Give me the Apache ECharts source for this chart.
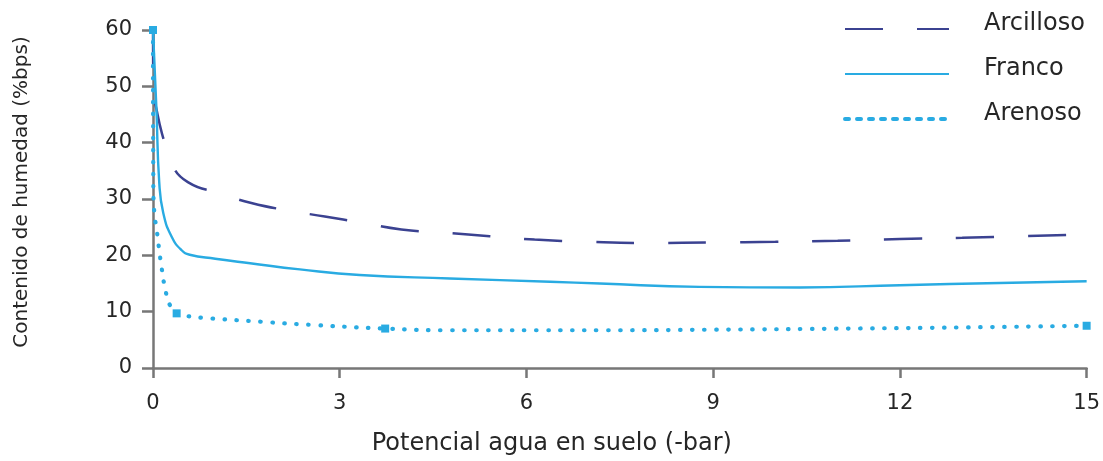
<!DOCTYPE html>
<html>
<head>
<meta charset="utf-8">
<script src="https://cdn.jsdelivr.net/npm/echarts@6/dist/echarts.min.js"></script>
<style>
html,body{margin:0;padding:0;background:#fff;}
#chart{width:1103px;height:461px;}
</style>
</head>
<body>
<div id="chart"></div>
<script>
// ---- data ----
const seriesNames = ['Arcilloso', 'Franco', 'Arenoso'];
const xTicks = [0, 3, 6, 9, 12, 15];
const yTicks = [0, 10, 20, 30, 40, 50, 60];

const arcX = [0, 0.005, 0.075, 0.165, 0.29, 0.56, 1.08, 1.58, 2.2, 2.76, 3.35, 3.99, 4.72, 5.41, 6.13, 7.0, 8.0, 9.0, 10.0, 11.0, 12.0, 13.0, 14.0, 15.0];
const arcY = [60, 50, 44.9, 40.8, 36.4, 33.0, 31.0, 29.3, 27.9, 26.9, 25.8, 24.6, 24.0, 23.4, 22.8, 22.4, 22.2, 22.3, 22.4, 22.6, 22.9, 23.1, 23.4, 23.7];

const francoX = [0, 0.055, 0.1, 0.165, 0.3, 0.46, 0.59, 1.0, 1.56, 2.36, 3.32, 4.77, 6.38, 7.18, 8.78, 10.39, 12.0, 13.6, 15.0];
const francoY = [60, 46, 33.0, 27.5, 23.3, 20.9, 20.1, 19.4, 18.6, 17.5, 16.5, 15.9, 15.3, 15.0, 14.4, 14.3, 14.7, 15.1, 15.4];

const arenX = [0, 0.005, 0.02, 0.06, 0.1, 0.14, 0.19, 0.27, 0.38, 0.56, 0.94, 1.75, 2.63, 3.73, 4.77, 6.27, 7.18, 9.0, 11.2, 13.0, 15.0];
const arenY = [60, 33, 27.7, 24.5, 20.9, 17.7, 14.4, 11.2, 9.7, 9.2, 8.8, 8.2, 7.6, 7.0, 6.7, 6.7, 6.7, 6.8, 7.0, 7.2, 7.5];
const arenMarked = [0, 8, 13, 20];

const NAVY = '#3b4291';
const BLUE = '#29abe2';
const AXIS = '#777777';
const TEXT = '#262626';
const FONT = 'DejaVu Sans';

function pairs(xs, ys) { return xs.map((x, i) => [x, ys[i]]); }

const chart = echarts.init(document.getElementById('chart'));
chart.setOption({
  animation: false,
  grid: { left: 153, right: 16, top: 30, bottom: 93, containLabel: false },
  legend: {
    orient: 'vertical',
    left: 838, top: 7,
    itemWidth: 104, itemHeight: 14, itemGap: 21,
    itemStyle: { opacity: 0 },
    formatter: function (name) { return '{t|' + name + '}'; },
    textStyle: {
      fontFamily: FONT, fontSize: 24, color: TEXT, padding: [0, 0, 0, 30],
      rich: { t: { fontFamily: FONT, fontSize: 24, color: TEXT, padding: [0, 0, 10, 0] } }
    },
    data: [
      { name: seriesNames[0] },
      { name: seriesNames[1] },
      { name: seriesNames[2], lineStyle: { width: 4, type: [4, 8] } }
    ]
  },
  xAxis: {
    type: 'value', min: 0, max: 15, interval: 3,
    name: 'Potencial agua en suelo (-bar)',
    nameLocation: 'middle', nameGap: 64,
    nameTextStyle: { fontFamily: FONT, fontSize: 24, color: TEXT, padding: [0, 136, 0, 0] },
    axisLine: { show: true, lineStyle: { color: AXIS, width: 2.5 } },
    axisTick: { show: true, length: 10, lineStyle: { color: AXIS, width: 2.5 } },
    axisLabel: { fontFamily: FONT, fontSize: 21, color: TEXT, margin: 25 },
    splitLine: { show: false }
  },
  yAxis: {
    type: 'value', min: 0, max: 60, interval: 10,
    name: 'Contenido de humedad (%bps)',
    nameLocation: 'middle', nameGap: 121, nameRotate: 90,
    nameTextStyle: { fontFamily: FONT, fontSize: 20, color: TEXT, padding: [0, 0, 0, 14] },
    axisLine: { show: true, lineStyle: { color: AXIS, width: 2.5 } },
    axisTick: { show: true, length: 11, lineStyle: { color: AXIS, width: 2.5 } },
    axisLabel: { fontFamily: FONT, fontSize: 21, color: TEXT, margin: 21 },
    splitLine: { show: false }
  },
  series: [
    {
      name: seriesNames[0], type: 'line', symbol: 'none', smooth: 0.5,
      lineStyle: { color: NAVY, width: 2.5, type: [38, 34] },
      itemStyle: { color: NAVY },
      data: pairs(arcX, arcY), z: 2
    },
    {
      name: seriesNames[1], type: 'line', symbol: 'none', smooth: 0.5,
      lineStyle: { color: BLUE, width: 2.4 },
      itemStyle: { color: BLUE },
      data: pairs(francoX, francoY), z: 3
    },
    {
      name: seriesNames[2], type: 'line', symbol: 'none', smooth: 0.5,
      lineStyle: { color: BLUE, width: 4.2, type: [0.5, 11.5], cap: 'round' },
      itemStyle: { color: BLUE },
      showSymbol: true,
      data: pairs(arenX, arenY).map((p, i) => arenMarked.indexOf(i) >= 0
        ? { value: p, symbol: 'rect', symbolSize: 8 }
        : { value: p }),
      z: 4
    }
  ]
});
</script>
</body>
</html>
